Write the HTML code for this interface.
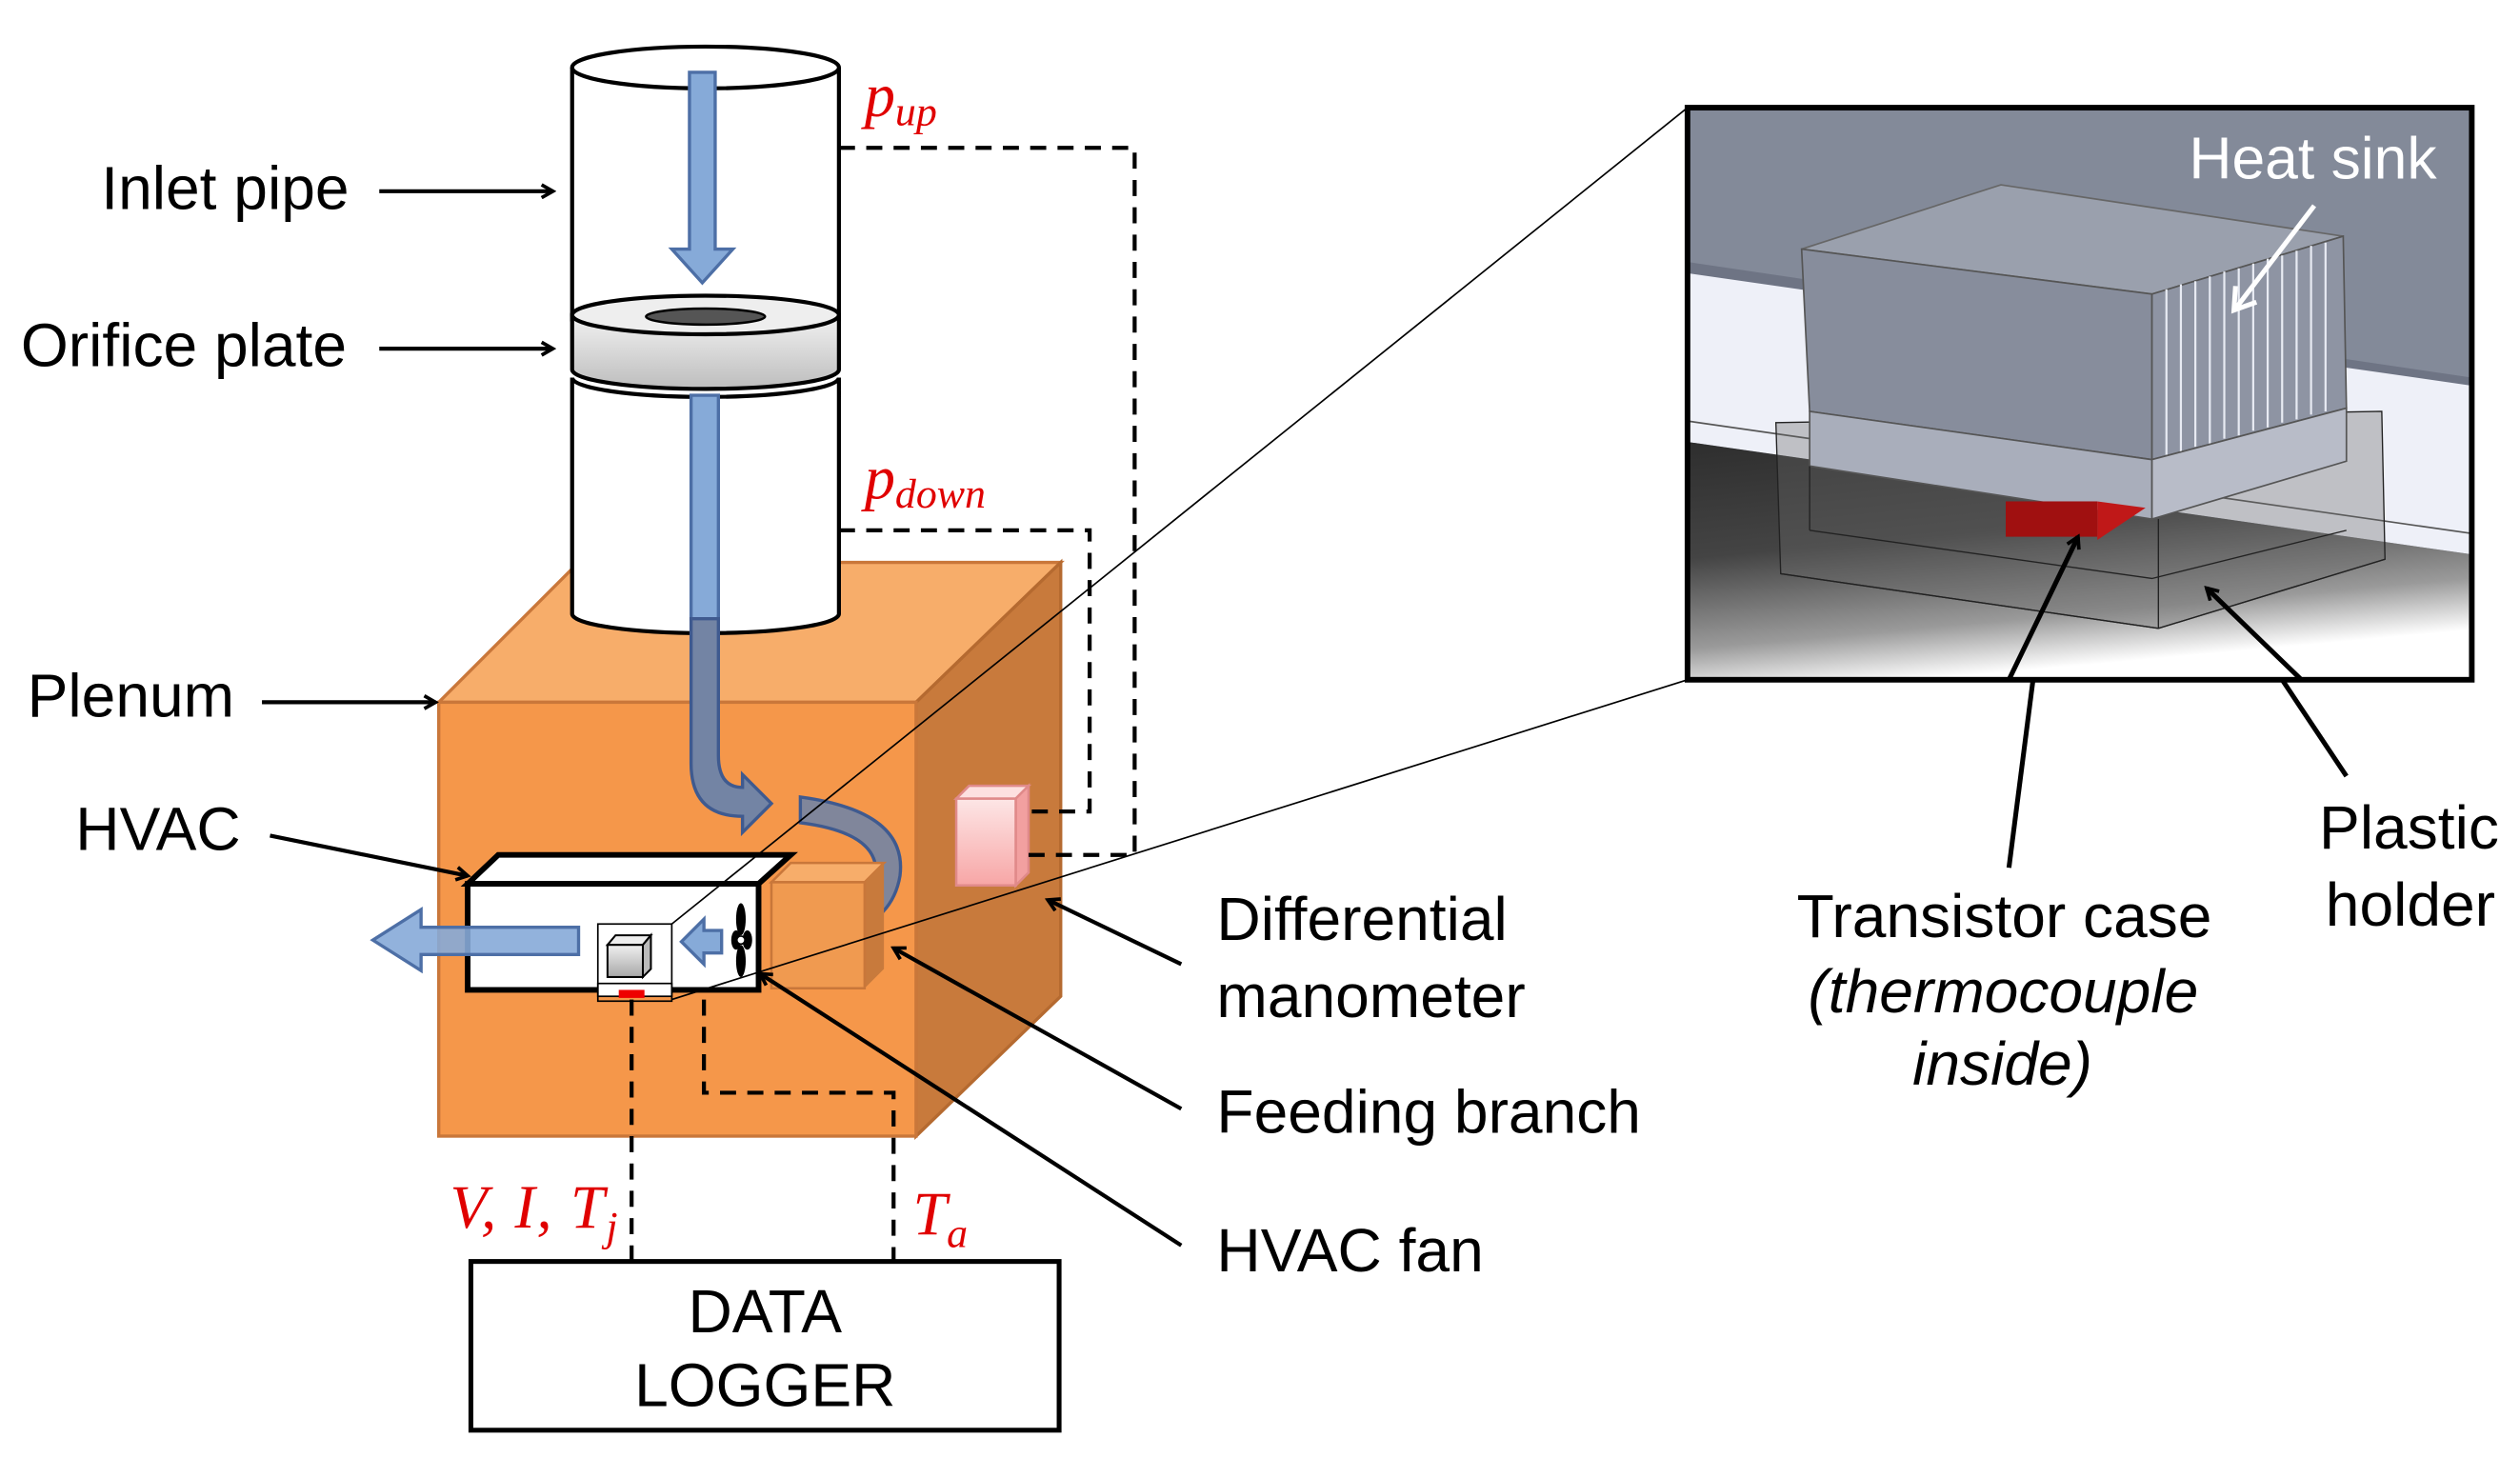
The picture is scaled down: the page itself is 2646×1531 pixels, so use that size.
<!DOCTYPE html>
<html><head><meta charset="utf-8"><style>
html,body{margin:0;padding:0;background:#fff;}
svg{display:block;}
.lbl{font-family:"Liberation Sans",sans-serif;font-size:38px;fill:#000;}
.red{font-family:"Liberation Serif",serif;font-style:italic;fill:#e00000;}
</style></head><body>
<svg width="2646" height="1531" viewBox="0 0 1568 907.3" preserveAspectRatio="none" xmlns="http://www.w3.org/2000/svg">
<defs>
<linearGradient id="dark" x1="0" y1="0" x2="0.3" y2="1">
<stop offset="0" stop-color="#2e2e2e"/><stop offset="0.45" stop-color="#444"/><stop offset="0.8" stop-color="#9a9a9a"/><stop offset="1" stop-color="#fff"/>
</linearGradient>
<linearGradient id="pink" x1="0" y1="0" x2="0" y2="1"><stop offset="0" stop-color="#fde6e6"/><stop offset="1" stop-color="#f7a6a6"/></linearGradient>
<linearGradient id="cube" x1="0" y1="0" x2="0" y2="1"><stop offset="0" stop-color="#f0f0f0"/><stop offset="1" stop-color="#a8a8a8"/></linearGradient>
<linearGradient id="ring" x1="0" y1="0" x2="0" y2="1"><stop offset="0" stop-color="#f2f2f2"/><stop offset="1" stop-color="#bdbdbd"/></linearGradient>
<marker id="ah" markerWidth="10" markerHeight="10" refX="8" refY="5" orient="auto" markerUnits="userSpaceOnUse" viewBox="0 0 10 10"><path d="M1,1 L8,5 L1,9" fill="none" stroke="#000" stroke-width="2.2"/></marker>
</defs>

<polygon points="273,437 360,350 660,350 570,437" fill="#f7ad6a" stroke="#c9773a" stroke-width="2"/>
<polygon points="570,437 660,350 660,620 570,707" fill="#c87a3c" stroke="#b56a30" stroke-width="2"/>
<rect x="273" y="437" width="297" height="270" fill="#f5974a" stroke="#c9773a" stroke-width="2"/>

<rect x="356" y="42" width="166" height="160" fill="#fff"/>
<line x1="356" y1="42" x2="356" y2="200" stroke="#000" stroke-width="2.5"/>
<line x1="522" y1="42" x2="522" y2="200" stroke="#000" stroke-width="2.5"/>
<ellipse cx="439" cy="42" rx="83" ry="13" fill="#fff" stroke="#000" stroke-width="2.5"/>
<path d="M356,196 L356,230 A83,12 0 0 0 522,230 L522,196 Z" fill="url(#ring)" stroke="#000" stroke-width="2.5"/>
<ellipse cx="439" cy="196" rx="83" ry="12" fill="#eee" stroke="#000" stroke-width="2.5"/>
<ellipse cx="439" cy="197" rx="37" ry="5" fill="#555" stroke="#000" stroke-width="1.5"/>
<path d="M356,235 L356,382 A83,12 0 0 0 522,382 L522,235 A83,12 0 0 1 356,235 Z" fill="#fff" stroke="#000" stroke-width="2.5"/>

<path d="M429,45 L445,45 L445,155 L456,155 L437,176 L418,155 L429,155 Z" fill="#86aad8" stroke="#4d6fa6" stroke-width="2"/>
<path d="M430,246 L447,246 L447,385 L430,385 Z" fill="#86aad8" stroke="#4d6fa6" stroke-width="2"/>
<path d="M430,385 L447,385 L447,470 Q447,490 462,490 L462,482 L480,500 L462,518 L462,508 Q430,508 430,475 Z" fill="#7384a4" stroke="#3f5a8f" stroke-width="2"/>
<path d="M498,496 Q565,505 560,545 Q555,575 520,582 L518,596 L498,575 L515,556 L517,566 Q545,560 545,542 Q545,518 498,512 Z" fill="#7384a4" fill-opacity="0.9" stroke="#3f5a8f" stroke-width="2"/>

<polygon points="480,549 492,537 550,537 538,549" fill="#f7ad6a" stroke="#c9773a" stroke-width="1.5"/>
<polygon points="538,549 550,537 550,603 538,615" fill="#c87a3c"/>
<rect x="480" y="549" width="58" height="66" fill="#f09a50" stroke="#c9773a" stroke-width="1.5"/>

<polygon points="291,550 310,532 492,532 472,550" fill="#fff" stroke="#000" stroke-width="3.5"/>
<rect x="291" y="550" width="181" height="66" fill="#fff" stroke="#000" stroke-width="3.5"/>
<path d="M360,577 L360,594 L262,594 L262,604 L232,585 L262,566 L262,577 Z" fill="#86aad8" fill-opacity="0.9" stroke="#4d6fa6" stroke-width="2"/>
<rect x="372" y="575" width="46" height="45" fill="#fff" stroke="#000" stroke-width="1"/>
<rect x="372" y="612" width="46" height="11" fill="none" stroke="#000" stroke-width="1"/>
<rect x="385" y="616" width="16" height="5" fill="#e00"/>
<polygon points="378,588 383,582 405,582 400,588" fill="#eee" stroke="#000" stroke-width="1.2"/>
<polygon points="400,588 405,582 405,603 400,608" fill="#bbb" stroke="#000" stroke-width="1.2"/>
<rect x="378" y="588" width="22" height="20" fill="url(#cube)" stroke="#000" stroke-width="1.2"/>
<path d="M449,579 L449,593 L438,593 L438,600 L424,586 L438,572 L438,579 Z" fill="#86aad8" stroke="#4d6fa6" stroke-width="2"/>
<g fill="#000"><ellipse cx="461" cy="572" rx="3" ry="10"/><ellipse cx="461" cy="598" rx="3" ry="10"/><ellipse cx="458" cy="585" rx="3" ry="6"/><ellipse cx="465" cy="585" rx="3" ry="6"/><circle cx="461" cy="585" r="2.5" fill="#fff" stroke="#000"/></g>

<polygon points="595,497 603,489 640,489 632,497" fill="#fde0e0" stroke="#e08a8a" stroke-width="1.5"/>
<polygon points="632,497 640,489 640,543 632,551" fill="#f2a0a0" stroke="#e08a8a" stroke-width="1.5"/>
<rect x="595" y="497" width="37" height="54" fill="url(#pink)" stroke="#e08a8a" stroke-width="1.5"/>

<g fill="none" stroke="#000" stroke-width="2.5" stroke-dasharray="10,7">
<polyline points="522,92 706,92 706,532 640,532"/>
<polyline points="522,330 678,330 678,505 640,505"/>
<polyline points="438,622 438,680 556,680 556,785"/>
<line x1="393" y1="622" x2="393" y2="785"/>
</g>

<rect x="293" y="785" width="366" height="105" fill="#fff" stroke="#000" stroke-width="3"/>
<text class="lbl" x="476" y="829" text-anchor="middle" font-size="37">DATA</text>
<text class="lbl" x="476" y="875" text-anchor="middle" font-size="37">LOGGER</text>

<text class="red" x="538" y="72" font-size="38">p<tspan font-size="26" dy="6">up</tspan></text>
<text class="red" x="538" y="310" font-size="38">p<tspan font-size="26" dy="6">down</tspan></text>
<text class="red" x="280" y="764" font-size="38" letter-spacing="1">V, I, T<tspan font-size="26" dy="8">j</tspan></text>
<text class="red" x="568" y="768" font-size="38">T<tspan font-size="26" dy="8">a</tspan></text>

<text class="lbl" x="63" y="130">Inlet pipe</text>
<line x1="236" y1="119" x2="344" y2="119" stroke="#000" stroke-width="2.5" marker-end="url(#ah)"/>
<text class="lbl" x="13" y="228">Orifice plate</text>
<line x1="236" y1="217" x2="344" y2="217" stroke="#000" stroke-width="2.5" marker-end="url(#ah)"/>
<text class="lbl" x="17" y="446">Plenum</text>
<line x1="163" y1="437" x2="271" y2="437" stroke="#000" stroke-width="2.5" marker-end="url(#ah)"/>
<text class="lbl" x="47" y="529">HVAC</text>
<line x1="168" y1="520" x2="291" y2="545" stroke="#000" stroke-width="2.5" marker-end="url(#ah)"/>

<text class="lbl" x="757" y="585">Differential</text>
<text class="lbl" x="757" y="633">manometer</text>
<line x1="735" y1="600" x2="652" y2="560" stroke="#000" stroke-width="2.5" marker-end="url(#ah)"/>
<text class="lbl" x="757" y="705">Feeding branch</text>
<line x1="735" y1="690" x2="556" y2="590" stroke="#000" stroke-width="2.5" marker-end="url(#ah)"/>
<text class="lbl" x="757" y="791">HVAC fan</text>
<line x1="735" y1="775" x2="473" y2="606" stroke="#000" stroke-width="2.5" marker-end="url(#ah)"/>

<line x1="418" y1="575" x2="1050" y2="67" stroke="#000" stroke-width="1"/>
<line x1="418" y1="622" x2="1050" y2="423" stroke="#000" stroke-width="1"/>

<svg x="1050" y="67" width="488" height="356" viewBox="1050 67 488 356" overflow="hidden">
<rect x="1050" y="67" width="488" height="356" fill="#838a99"/>
<polygon points="1050,166 1538,238 1538,345 1050,275" fill="#eef0f8"/>
<polygon points="1050,163 1538,235 1538,240 1050,170" fill="#6e7484"/>
<polygon points="1050,275 1538,345 1538,423 1050,423" fill="url(#dark)"/>
<line x1="1050" y1="262" x2="1538" y2="332" stroke="#555" stroke-width="1"/>
<polygon points="1105,263 1482,256 1484,348 1343,391 1108,357" fill="#666" fill-opacity="0.35" stroke="#222" stroke-width="0.8"/>
<polygon points="1121,155 1245,115 1458,147 1339,183" fill="#9aa0ad" stroke="#666" stroke-width="1"/>
<polygon points="1121,155 1339,183 1339,286 1126,256" fill="#878d9c" stroke="#555" stroke-width="1"/>
<polygon points="1339,183 1458,147 1460,254 1339,286" fill="#8e94a3" stroke="#555" stroke-width="1"/>
<g stroke="#e8ebf3" stroke-width="1.3">
<line x1="1348" y1="180" x2="1348" y2="283"/><line x1="1357" y1="177" x2="1357" y2="281"/><line x1="1366" y1="175" x2="1366" y2="278"/><line x1="1375" y1="172" x2="1375" y2="276"/><line x1="1384" y1="169" x2="1384" y2="273"/><line x1="1393" y1="167" x2="1393" y2="271"/><line x1="1402" y1="164" x2="1402" y2="268"/><line x1="1411" y1="161" x2="1411" y2="266"/><line x1="1420" y1="159" x2="1420" y2="263"/><line x1="1429" y1="156" x2="1429" y2="261"/><line x1="1438" y1="153" x2="1438" y2="258"/><line x1="1447" y1="151" x2="1447" y2="256"/>
</g>
<polygon points="1126,256 1339,286 1339,323 1126,290" fill="#a9aebb" stroke="#555" stroke-width="1"/>
<polygon points="1339,286 1460,254 1460,287 1339,323" fill="#b8bcc8" stroke="#555" stroke-width="1"/>
<rect x="1248" y="312" width="57" height="22" fill="#a01010"/>
<polygon points="1305,312 1335,316 1305,336" fill="#c01818"/>
<polyline points="1108,357 1343,391 1484,348" fill="none" stroke="#222" stroke-width="0.8"/>
<line x1="1343" y1="323" x2="1343" y2="391" stroke="#222" stroke-width="0.8"/>
<line x1="1126" y1="290" x2="1126" y2="330" stroke="#222" stroke-width="0.8"/>
<polyline points="1126,330 1339,360 1460,330" fill="none" stroke="#222" stroke-width="0.8"/>
<line x1="1250" y1="423" x2="1293" y2="334" stroke="#000" stroke-width="3" marker-end="url(#ah)"/>
<line x1="1432" y1="423" x2="1373" y2="366" stroke="#000" stroke-width="3" marker-end="url(#ah)"/>
<line x1="1440" y1="128" x2="1391" y2="192" stroke="#fff" stroke-width="3"/>
<polyline points="1391,178 1390,193 1404,188" fill="none" stroke="#fff" stroke-width="3"/>
<text x="1362" y="111" font-family="Liberation Sans,sans-serif" font-size="37" fill="#fff">Heat sink</text>
</svg>
<rect x="1050" y="67" width="488" height="356" fill="none" stroke="#000" stroke-width="3.5"/>
<line x1="1250" y1="540" x2="1265" y2="423" stroke="#000" stroke-width="3"/>
<line x1="1460" y1="483" x2="1420" y2="423" stroke="#000" stroke-width="3"/>

<text class="lbl" x="1118" y="583">Transistor case</text>
<text class="lbl" x="1125" y="630" font-style="italic">(thermocouple</text>
<text class="lbl" x="1190" y="675" font-style="italic">inside)</text>
<text class="lbl" x="1443" y="528">Plastic</text>
<text class="lbl" x="1447" y="576">holder</text>
</svg>
</body></html>
